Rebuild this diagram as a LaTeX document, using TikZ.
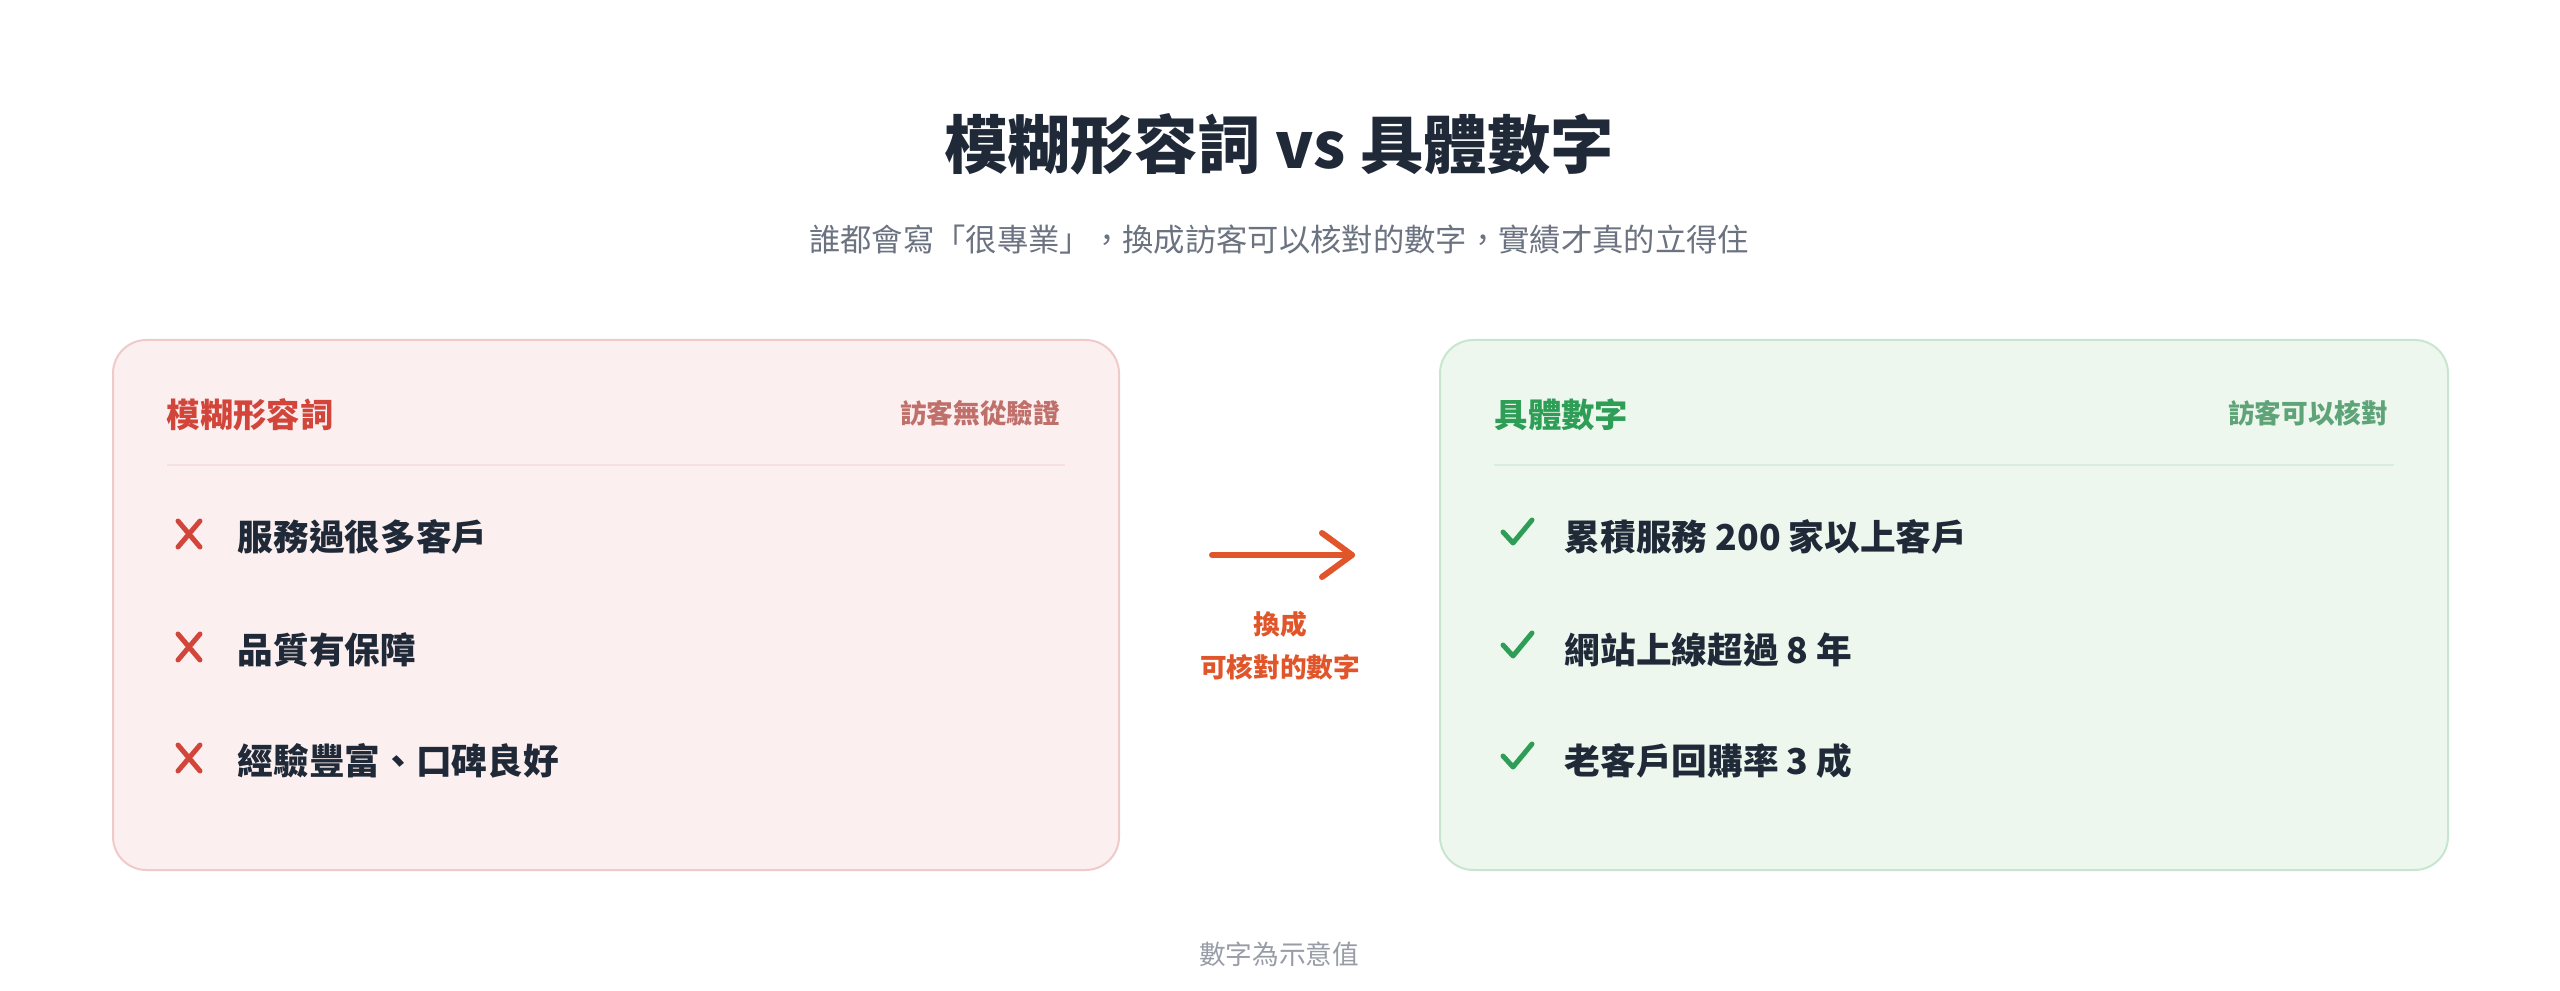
\documentclass[tikz,border=0pt]{standalone}
\usepackage{fontspec}
\setmainfont{Noto Sans CJK TC}
\usetikzlibrary{calc}
\definecolor{ink}{HTML}{1F2937}
\definecolor{sub}{HTML}{6B7280}
\definecolor{bad}{HTML}{D2453B}
\definecolor{badsoft}{HTML}{C0706A}
\definecolor{badfill}{HTML}{FCEFEF}
\definecolor{badline}{HTML}{F0CACA}
\definecolor{good}{HTML}{2E9E57}
\definecolor{goodsoft}{HTML}{5EA478}
\definecolor{goodfill}{HTML}{EDF7EE}
\definecolor{goodline}{HTML}{C8E6CF}
\definecolor{swapcol}{HTML}{E0562A}
\tikzset{
  card/.style={rounded corners=10pt,line width=0.6pt},
  head/.style={anchor=west,font=\fontsize{10}{12}\selectfont\bfseries},
  tag/.style={anchor=east,font=\fontsize{8}{10}\selectfont\bfseries},
  item/.style={anchor=west,text=ink,font=\fontsize{10.7}{13}\selectfont\bfseries},
  tick/.style={line width=1.5pt,line cap=round,line join=round}
}
\begin{document}
\begin{tikzpicture}[x=0.3pt,y=-0.3pt]
\useasboundingbox (0,0) rectangle (2560,991);
\node[text=ink,font=\fontsize{19}{23}\selectfont\bfseries] (title) at (1279,144) {模糊形容詞 vs 具體數字};
\node[text=sub,font=\fontsize{9.4}{12}\selectfont] (subtitle) at (1279,240) {誰都會寫「很專業」，換成訪客可以核對的數字，實績才真的立得住};
% left card
\draw[card,fill=badfill,draw=badline] (113,340) rectangle (1119,870);
\node[head,text=bad] (vague) at (155,415) {模糊形容詞};
\node[tag,text=badsoft] (vaguetag) at (1072,413) {訪客無從驗證};
\draw[draw=badline!60,line width=0.6pt] (167,465) -- (1065,465);
\foreach \y/\t [count=\i] in {537/服務過很多客戶,650/品質有保障,761/經驗豐富、口碑良好}{
  \coordinate (x\i) at (189,\y-3);
  \draw[tick,draw=bad] ($(x\i)+(-11,-13)$) -- ($(x\i)+(11,13)$) ($(x\i)+(-11,13)$) -- ($(x\i)+(11,-13)$);
  \node[item] (v\i) at (226,\y) {\t};
}
% middle
\coordinate (from) at (1212,555);
\coordinate (to) at (1352,555);
\draw[draw=swapcol,line width=1.8pt,line cap=round] (from) -- (to);
\draw[draw=swapcol,line width=1.8pt,line cap=round,line join=round] (1322,533) -- (to) -- (1322,577);
\node[text=swapcol,align=center,font=\fontsize{8}{13}\selectfont\bfseries] (swaplabel) at (1280,646) {換成\\可核對的數字};
% right card
\draw[card,fill=goodfill,draw=goodline] (1440,340) rectangle (2448,870);
\node[head,text=good] (exact) at (1483,415) {具體數字};
\node[tag,text=goodsoft] (exacttag) at (2400,413) {訪客可以核對};
\draw[draw=goodline!70,line width=0.6pt] (1494,465) -- (2394,465);
\foreach \y/\t [count=\i] in {537/累積服務 200 家以上客戶,650/網站上線超過 8 年,761/老客戶回購率 3 成}{
  \coordinate (c\i) at (1517,\y-5);
  \draw[tick,draw=good] ($(c\i)+(-14,0)$) -- ($(c\i)+(-4,11)$) -- ($(c\i)+(15,-12)$);
  \node[item] (e\i) at (1553,\y) {\t};
}
\node[text=sub!70,font=\fontsize{8}{10}\selectfont] (note) at (1279,954) {數字為示意值};
\end{tikzpicture}
\end{document}
